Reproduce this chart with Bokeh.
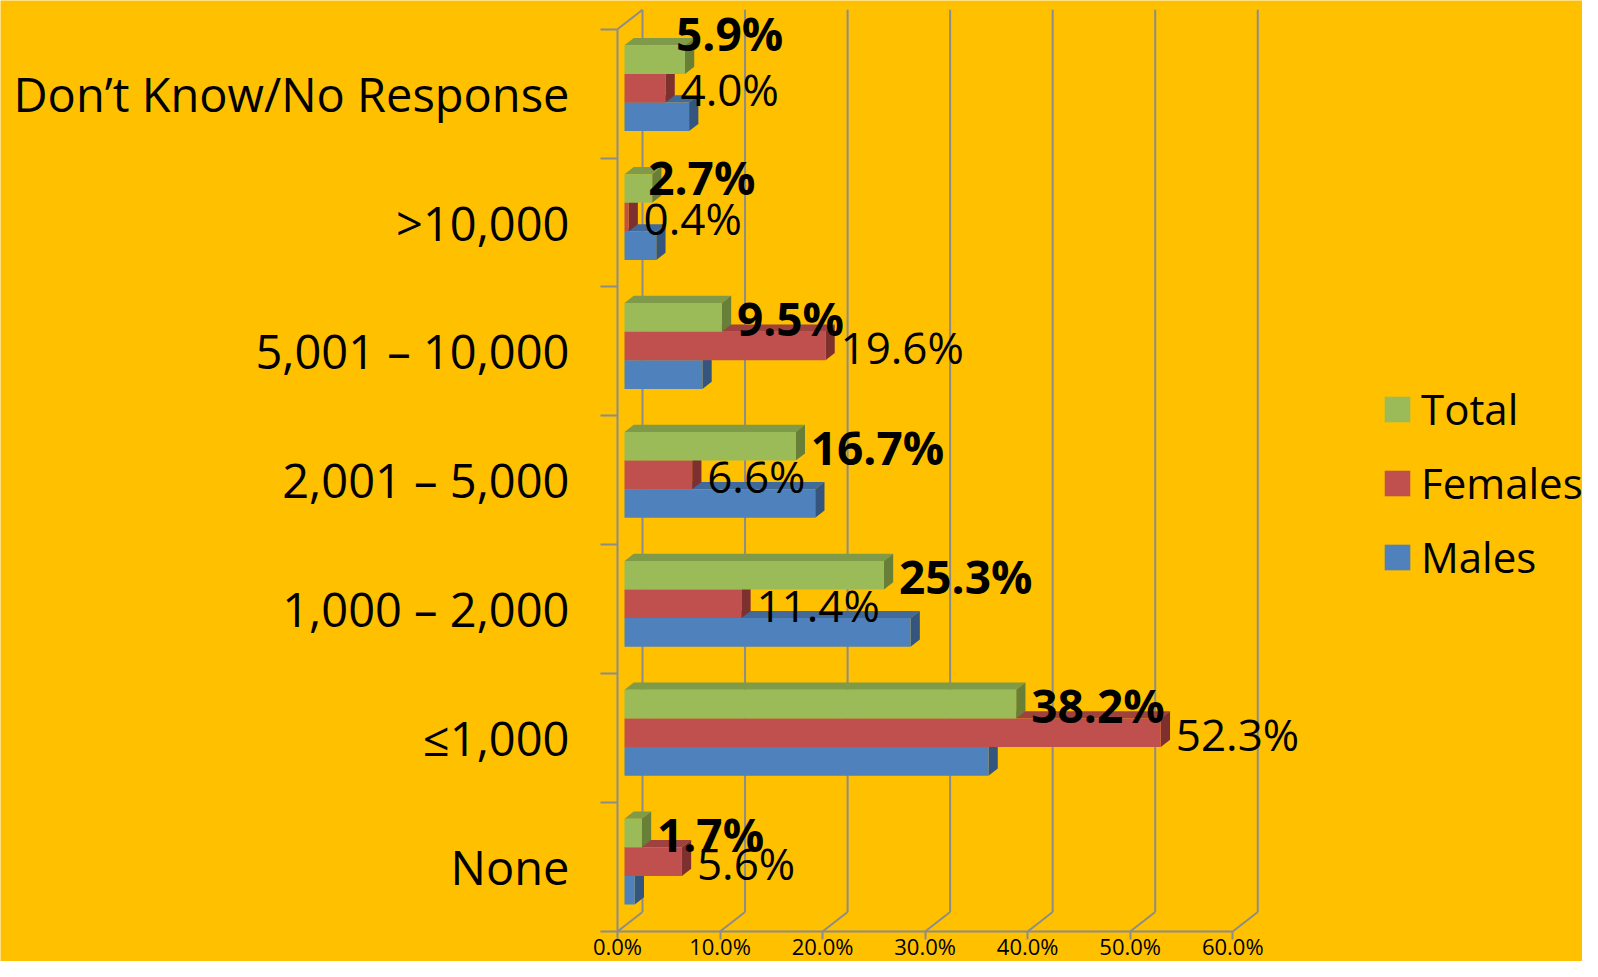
from bokeh.plotting import figure
from bokeh.models import (Range1d, FixedTicker, PrintfTickFormatter, CustomJSTickFormatter,
                          Legend, LegendItem, ColumnDataSource)
from bokeh.core.properties import value
from bokeh.embed import file_html
from bokeh.resources import INLINE

# ---------------- data ----------------
categories = ["None", "≤1,000", "1,000 – 2,000", "2,001 – 5,000",
              "5,001 – 10,000", ">10,000", "Don’t Know/No Response"]
males = [1.0, 35.5, 27.9, 18.6, 7.6, 3.1, 6.3]
females = [5.6, 52.3, 11.4, 6.6, 19.6, 0.4, 4.0]
total = [1.7, 38.2, 25.3, 16.7, 9.5, 2.7, 5.9]
x_ticks = [0, 10, 20, 30, 40, 50, 60]

# label nudges (pixels) for the Total labels
total_dx = [22, 22, 22, 22, 22, 3, -2]
total_dy = [1, 1, 1, 1, 1, -11, -27]

# ---------------- style ----------------
BG = "#FFC000"
GRID = "#8C8C8C"
FONT = "Open Sans"
DEPTH_X = 2.44     # depth vector of the 3D box (data units)
DEPTH_Y = 0.151
FRONT = 0.28
BACK = 0.65
BAR_H = 0.222

n = len(categories)

p = figure(width=1582, height=961,
           x_range=Range1d(-60.17, 94.11), y_range=Range1d(-0.2327, 7.2226),
           output_backend="svg", toolbar_location=None,
           min_border_left=0, min_border_right=0, min_border_top=0, min_border_bottom=0)
p.background_fill_color = BG
p.border_fill_color = BG
p.outline_line_color = None
p.grid.visible = False

# ---------------- walls ----------------
back_x = [t + DEPTH_X for t in x_ticks]
p.segment(x0=back_x, y0=[DEPTH_Y] * len(x_ticks), x1=back_x, y1=[n + DEPTH_Y] * len(x_ticks),
          line_color=GRID, line_width=2)
p.segment(x0=x_ticks, y0=[0] * len(x_ticks), x1=back_x, y1=[DEPTH_Y] * len(x_ticks),
          line_color=GRID, line_width=2)
p.segment(x0=[0], y0=[n], x1=[DEPTH_X], y1=[n + DEPTH_Y], line_color=GRID, line_width=2)

# ---------------- bars ----------------
fx, fy = FRONT * DEPTH_X, FRONT * DEPTH_Y
bx, by = BACK * DEPTH_X, BACK * DEPTH_Y
ddx, ddy = bx - fx, by - fy

series = [
    ("Males", males, "#4F81BD", "#41699A", "#34557D", -BAR_H),
    ("Females", females, "#C0504D", "#9E413F", "#7E302E", 0.0),
    ("Total", total, "#9BBB59", "#7F9A48", "#687F38", BAR_H),
]
renderers = {}
for name, vals, c_front, c_top, c_side, off in series:
    centers = [i + 0.5 + off + fy for i in range(n)]
    tops = [c + BAR_H / 2 for c in centers]
    bots = [c - BAR_H / 2 for c in centers]
    top_xs = [[fx, v + fx, v + bx, bx] for v in vals]
    top_ys = [[t, t, t + ddy, t + ddy] for t in tops]
    side_xs = [[v + fx, v + bx, v + bx, v + fx] for v in vals]
    side_ys = [[b, b + ddy, t + ddy, t] for b, t in zip(bots, tops)]
    p.patches(top_xs, top_ys, fill_color=c_top, line_color=None)
    p.patches(side_xs, side_ys, fill_color=c_side, line_color=None)
    renderers[name] = p.hbar(y=centers, height=BAR_H, left=fx, right=[v + fx for v in vals],
                             fill_color=c_front, line_color=None)

# ---------------- data labels ----------------
src_t = ColumnDataSource(dict(
    x=total, y=[i + 0.5 + BAR_H + fy for i in range(n)],
    text=[f"{v:.1f}%" for v in total], dx=total_dx, dy=total_dy))
p.text(x="x", y="y", text="text", x_offset="dx", y_offset="dy", source=src_t,
       text_font=value(FONT), text_font_style="bold", text_font_size="46px",
       text_baseline="middle", text_align="left", text_color="black")

src_f = ColumnDataSource(dict(
    x=females, y=[i + 0.5 + fy for i in range(n)],
    text=[f"{v:.1f}%" for v in females]))
p.text(x="x", y="y", text="text", x_offset=22, y_offset=1, source=src_f,
       text_font=value(FONT), text_font_size="44px",
       text_baseline="middle", text_align="left", text_color="black")

# ---------------- axes ----------------
xax = p.xaxis[0]
xax.ticker = FixedTicker(ticks=x_ticks)
xax.formatter = PrintfTickFormatter(format="%.1f%%")
xax.bounds = (0, 60)
xax.fixed_location = 0
xax.axis_line_color = GRID
xax.axis_line_width = 2
xax.major_tick_line_color = GRID
xax.major_tick_line_width = 2
xax.major_tick_out = 8
xax.major_tick_in = 0
xax.minor_tick_line_color = None
xax.major_label_standoff = -9
xax.major_label_text_font = FONT
xax.major_label_text_font_size = "22px"
xax.major_label_text_color = "black"

yax = p.yaxis[0]
yax.ticker = FixedTicker(ticks=[i + 0.5 for i in range(n)], minor_ticks=list(range(n + 1)))
yax.formatter = CustomJSTickFormatter(args=dict(labels=categories),
                                      code="return labels[Math.round(tick - 0.5)];")
yax.bounds = (0, n)
yax.fixed_location = 0
yax.axis_line_color = GRID
yax.axis_line_width = 2
yax.major_tick_line_color = None
yax.minor_tick_line_color = GRID
yax.minor_tick_line_width = 2
yax.minor_tick_out = 17
yax.minor_tick_in = 0
yax.major_label_standoff = 31
yax.major_label_text_font = FONT
yax.major_label_text_font_size = "47px"
yax.major_label_text_color = "black"

# ---------------- legend ----------------
legend = Legend(items=[LegendItem(label="Total", renderers=[renderers["Total"]]),
                       LegendItem(label="Females", renderers=[renderers["Females"]]),
                       LegendItem(label="Males", renderers=[renderers["Males"]])],
                location=(1381, 376), orientation="vertical",
                glyph_width=32, glyph_height=32, label_standoff=8, spacing=17,
                padding=0, margin=0, border_line_color=None, background_fill_alpha=0,
                label_text_font=FONT, label_text_font_size="42px", label_height=54,
                label_text_color="black")
p.add_layout(legend)

open("out.html", "w").write(file_html(p, INLINE))
